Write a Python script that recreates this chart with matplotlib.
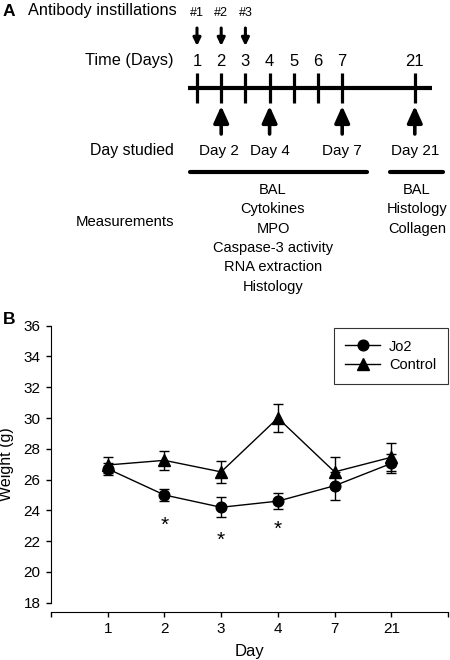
import numpy as np
import matplotlib
matplotlib.use('Agg')
import matplotlib.pyplot as plt
from matplotlib.lines import Line2D

plt.rcParams['font.family'] = ['Liberation Sans', 'DejaVu Sans']

# ---- panel A data ----
instill_labels = ['#1', '#2', '#3']
instill_days = [1, 2, 3]
time_days = [1, 2, 3, 4, 5, 6, 7, 21]
studied_days = [2, 4, 7, 21]
measure_early = ['BAL', 'Cytokines', 'MPO', 'Caspase-3 activity', 'RNA extraction', 'Histology']
measure_late = ['BAL', 'Histology', 'Collagen']

# ---- panel B data ----
days_b = ['1', '2', '3', '4', '7', '21']
jo2_mean = [26.7, 25.0, 24.2, 24.6, 25.6, 27.05]
jo2_err = [0.4, 0.4, 0.65, 0.5, 0.9, 0.6]
ctrl_mean = [26.95, 27.25, 26.5, 30.0, 26.5, 27.45]
ctrl_err = [0.55, 0.6, 0.7, 0.9, 1.0, 0.9]
sig_days = ['2', '3', '4']
star_y = [23.0, 22.05, 22.75]

fig = plt.figure(figsize=(4.5, 6.6), dpi=100)

# ================= Panel A =================
# x in timeline units (one day step = 24.2 px, day 1 at px 197), y in pixels from top
X0, STEP = 197, 24.2
def px(x):
    return (x - X0) / STEP

day_pos = {d: i for i, d in enumerate(time_days[:-1])}
day_pos[21] = 9

ax_a = fig.add_axes([0, 1 - 310 / 660, 1, 310 / 660])
ax_a.set_xlim(px(0), px(450))
ax_a.set_ylim(310, 0)
ax_a.axis('off')

ax_a.text(px(28), 11, 'Antibody instillations', fontsize=11.8, ha='left', va='center')
for lab, d in zip(instill_labels, instill_days):
    ax_a.text(day_pos[d], 13, lab, fontsize=9, ha='center', va='center')
    ax_a.annotate('', xy=(day_pos[d], 46), xytext=(day_pos[d], 28),
                  arrowprops=dict(arrowstyle='-|>,head_length=0.45,head_width=0.22',
                                  lw=2.2, color='black', shrinkA=0, shrinkB=0))

ax_a.text(px(174), 61, 'Time (Days)', fontsize=11.7, ha='right', va='center')
for d in time_days:
    ax_a.text(day_pos[d], 61, str(d), fontsize=12, ha='center', va='center')
    ax_a.plot([day_pos[d], day_pos[d]], [73, 103], color='black', lw=2.3,
              solid_capstyle='butt')
ax_a.plot([px(188), px(432)], [88, 88], color='black', lw=3, solid_capstyle='butt')

ax_a.text(px(174), 151, 'Day studied', fontsize=11.4, ha='right', va='center')
for d in studied_days:
    ax_a.annotate('', xy=(day_pos[d], 106), xytext=(day_pos[d], 134),
                  arrowprops=dict(arrowstyle='-|>,head_length=1.0,head_width=0.45',
                                  lw=2.6, color='black', shrinkA=0, shrinkB=0))
    ax_a.text(day_pos[d] - 0.1 * (d == 2), 151, 'Day %d' % d, fontsize=11,
              ha='center', va='center')

ax_a.plot([px(190), px(367)], [172, 172], color='black', lw=3, solid_capstyle='round')
ax_a.plot([px(390), px(443)], [172, 172], color='black', lw=3, solid_capstyle='round')

ax_a.text(px(174), 222, 'Measurements', fontsize=10.7, ha='right', va='center')
for i, m in enumerate(measure_early):
    ax_a.text(px(273), 190 + 19.3 * i, m, fontsize=10.5, ha='center', va='center')
for i, m in enumerate(measure_late):
    ax_a.text(px(417), 190 + 19.3 * i, m, fontsize=10.5, ha='center', va='center')

fig.text(3 / 450, 1 - 11 / 660, 'A', fontsize=12.5, fontweight='bold', ha='left', va='center')

# ================= Panel B =================
ax = fig.add_axes([51 / 450, 1 - 602.7 / 660, 397 / 450, 277 / 660])
x = np.arange(1, len(days_b) + 1)

ax.errorbar(x, ctrl_mean, yerr=ctrl_err, fmt='none', ecolor='black',
            elinewidth=1, capsize=3.6, capthick=1)
ax.plot(x, ctrl_mean, color='black', marker='^', markersize=8.5, lw=1)
ax.errorbar(x, jo2_mean, yerr=jo2_err, fmt='none', ecolor='black',
            elinewidth=1, capsize=3.6, capthick=1)
ax.plot(x, jo2_mean, color='black', marker='o', markersize=7.7, lw=1)

for d, yy in zip(sig_days, star_y):
    ax.text(days_b.index(d) + 1, yy, '*', fontsize=15, ha='center', va='center')

ax.set_xlim(0, len(days_b) + 1)
ax.set_ylim(18, 36)
ax.set_yticks(np.arange(18, 37, 2))
ax.set_xticks(np.arange(0, len(days_b) + 2))
ax.set_xticklabels([''] + days_b + [''])
ax.tick_params(axis='both', direction='out', length=3.5, width=1, labelsize=11)
ax.tick_params(axis='y', pad=4)
ax.spines['top'].set_visible(False)
ax.spines['right'].set_visible(False)
ax.spines['bottom'].set_position(('outward', 7))

ax.set_ylabel('Weight (g)', fontsize=11.5)
ax.yaxis.set_label_coords(-0.092, 0.5)
ax.set_xlabel('Day', fontsize=12)
ax.xaxis.set_label_coords(0.499, -0.15)

handles = [Line2D([], [], color='black', marker='o', markersize=7.7, lw=1),
           Line2D([], [], color='black', marker='^', markersize=8.5, lw=1)]
leg = ax.legend(handles, ['Jo2', 'Control'], loc='upper right',
                bbox_to_anchor=(1.0, 0.992), borderaxespad=0, fancybox=False,
                edgecolor='black', fontsize=10.5, handlelength=2.4,
                handletextpad=0.6, labelspacing=0.3, borderpad=0.8)
leg.get_frame().set_linewidth(0.8)

fig.text(3 / 450, 1 - 319 / 660, 'B', fontsize=12.5, fontweight='bold', ha='left', va='center')

plt.savefig('out.png', dpi=100)
plt.close()
